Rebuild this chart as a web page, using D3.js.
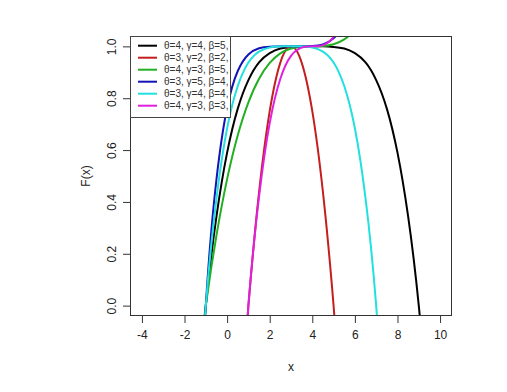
<!DOCTYPE html>
<html>
<head>
<meta charset="utf-8">
<script src="https://cdn.jsdelivr.net/npm/d3@7"></script>
<style>
  body { margin: 0; background: #fff; }
  text { font-family: "Liberation Sans", Arial, sans-serif; fill: #222; }
</style>
</head>
<body>
<svg width="507" height="392"></svg>
<script>
// values, x every 0.5
const xs = [-1.5, -1, -0.5, 0, 0.5, 1, 1.5, 2, 2.5, 3, 3.5, 4, 4.5, 5, 5.5, 6, 6.5, 7, 7.5, 8, 8.5, 9, 9.5];
const blackY = [-0.464, 0, 0.344, 0.590, 0.760, 0.870, 0.938, 0.974, 0.992, 0.998, 1.000, 1, 1.000, 0.998, 0.992, 0.974, 0.938, 0.870, 0.760, 0.590, 0.344, 0, -0.464];
const redX = [0, 0.5, 1, 1.5, 2, 2.5, 3, 3.5, 4, 4.5, 5, 5.5, 6];
const redY = [-1.25, -0.5625, 0, 0.4375, 0.75, 0.9375, 1, 0.9375, 0.75, 0.4375, 0, -0.5625, -1.25];
const greenX = [-1.5, -1, -0.5, 0, 0.5, 1, 1.5, 2, 2.5, 3, 3.5, 4, 4.5, 5, 5.5, 6, 6.5];
const greenY = [-0.331, 0, 0.271, 0.488, 0.657, 0.784, 0.875, 0.936, 0.973, 0.992, 0.999, 1, 1.001, 1.008, 1.027, 1.064, 1.125];
const blueX = [-1.5, -1, -0.5, 0, 0.5, 1, 1.5, 2, 2.5, 3, 3.5, 4, 4.5, 5, 5.5, 6];
const blueY = [-0.802, 0, 0.487, 0.763, 0.905, 0.969, 0.993, 0.999, 1.000, 1, 1.000, 1.001, 1.007, 1.031, 1.095, 1.237];
const cyanX = [-1.5, -1, -0.5, 0, 0.5, 1, 1.5, 2, 2.5, 3, 3.5, 4, 4.5, 5, 5.5, 6, 6.5, 7, 7.5];
const cyanY = [-0.602, 0, 0.414, 0.684, 0.847, 0.938, 0.980, 0.996, 1.000, 1, 1.000, 0.996, 0.980, 0.938, 0.847, 0.684, 0.414, 0, -0.602];
const magentaX = [0.5, 1, 1.5, 2, 2.5, 3, 3.5, 4, 4.5, 5, 5.5, 6];
const magentaY = [-0.588, 0, 0.421, 0.704, 0.875, 0.963, 0.995, 1, 1.005, 1.037, 1.125, 1.296];

const labels = ['θ=4, γ=4, β=5,', 'θ=3, γ=2, β=2,', 'θ=4, γ=3, β=5,', 'θ=3, γ=5, β=4,', 'θ=3, γ=4, β=4,', 'θ=4, γ=3, β=3,'];
const colors = ['#000000', '#c41e1e', '#22b022', '#1414b4', '#22e0e0', '#e020e0'];
const xTicks = [-4, -2, 0, 2, 4, 6, 8, 10];
const yTicks = [0, 0.2, 0.4, 0.6, 0.8, 1.0];

const series = [
  { x: xs, y: blackY },
  { x: redX, y: redY },
  { x: greenX, y: greenY },
  { x: blueX, y: blueY },
  { x: cyanX, y: cyanY },
  { x: magentaX, y: magentaY }
];

const svg = d3.select('svg');
const box = { left: 130, right: 452, top: 36, bottom: 316 };

// R style 4% padding around xlim = c(-4, 10), ylim = c(0, 1)
const x = d3.scaleLinear().domain([-4 - 0.56, 10 + 0.56]).range([box.left, box.right]);
const y = d3.scaleLinear().domain([-0.04, 1.04]).range([box.bottom, box.top]);

svg.append('defs').append('clipPath')
    .attr('id', 'plotclip')
  .append('rect')
    .attr('x', box.left)
    .attr('y', box.top)
    .attr('width', box.right - box.left)
    .attr('height', box.bottom - box.top);

const line = d3.line()
  .x(d => x(d[0]))
  .y(d => y(d[1]))
  .curve(d3.curveNatural);

svg.append('g')
    .attr('clip-path', 'url(#plotclip)')
  .selectAll('path')
  .data(series)
  .enter()
  .append('path')
    .attr('d', s => line(s.x.map((v, i) => [v, s.y[i]])))
    .attr('fill', 'none')
    .attr('stroke', (s, i) => colors[i])
    .attr('stroke-width', 2);

// axes
const xAxis = svg.append('g')
    .attr('transform', `translate(0,${box.bottom})`)
    .call(d3.axisBottom(x).tickValues(xTicks).tickSize(7).tickPadding(7).tickFormat(d => String(d)));
xAxis.select('.domain').remove();
xAxis.selectAll('text').attr('font-size', 12).style('fill', '#222');
xAxis.selectAll('line').attr('stroke', '#333');

const yAxis = svg.append('g')
    .attr('transform', `translate(${box.left},0)`)
    .call(d3.axisLeft(y).tickValues(yTicks).tickSize(7).tickFormat(d3.format('.1f')));
yAxis.select('.domain').remove();
yAxis.selectAll('line').attr('stroke', '#333');
yAxis.selectAll('text')
    .attr('font-size', 12)
    .style('fill', '#222')
    .attr('x', 0)
    .attr('y', 0)
    .attr('text-anchor', 'middle')
    .attr('transform', 'translate(-18,0) rotate(-90)')
    .attr('dy', '0.35em');

svg.append('rect')
    .attr('x', box.left + 0.5)
    .attr('y', box.top + 0.5)
    .attr('width', box.right - box.left - 1)
    .attr('height', box.bottom - box.top - 1)
    .attr('fill', 'none')
    .attr('stroke', '#333');

svg.append('text')
    .attr('x', (box.left + box.right) / 2)
    .attr('y', 367)
    .attr('dy', '0.35em')
    .attr('text-anchor', 'middle')
    .attr('font-size', 12)
    .text('x');

svg.append('text')
    .attr('transform', `translate(86,${(box.top + box.bottom) / 2}) rotate(-90)`)
    .attr('dy', '0.35em')
    .attr('text-anchor', 'middle')
    .attr('font-size', 12)
    .text('F(x)');

// legend
const legend = svg.append('g');
legend.append('rect')
    .attr('x', box.left + 0.5)
    .attr('y', box.top + 0.5)
    .attr('width', 100)
    .attr('height', 81)
    .attr('fill', '#fff')
    .attr('stroke', '#444');

const row = legend.selectAll('.row')
  .data(labels)
  .enter()
  .append('g')
    .attr('class', 'row')
    .attr('transform', (d, i) => `translate(0,${45.7 + i * 12})`);

row.append('line')
    .attr('x1', 138)
    .attr('x2', 157)
    .attr('stroke', (d, i) => colors[i])
    .attr('stroke-width', 2);

row.append('text')
    .attr('x', 164)
    .attr('dy', '0.35em')
    .attr('font-size', 10)
    .style('fill', '#333')
    .text(d => d);
</script>
</body>
</html>
